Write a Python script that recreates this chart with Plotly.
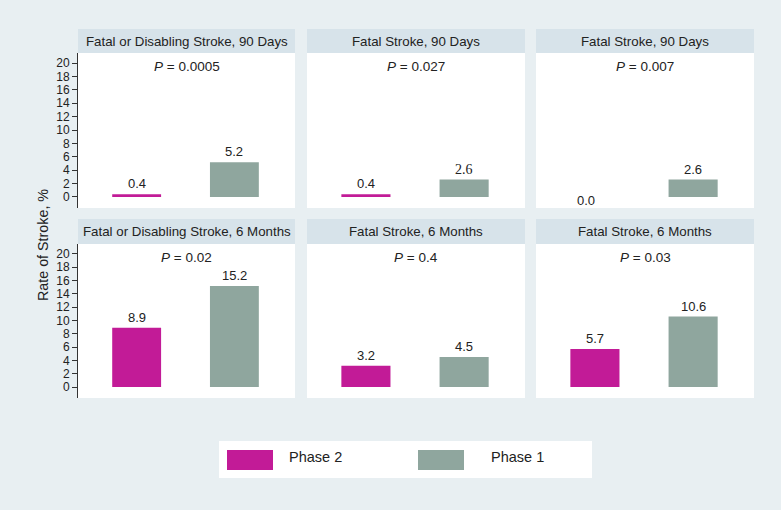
import plotly.graph_objects as go
from plotly.subplots import make_subplots

# data
panel_titles = [
    "Fatal or Disabling Stroke, 90 Days", "Fatal Stroke, 90 Days", "Fatal Stroke, 90 Days",
    "Fatal or Disabling Stroke, 6 Months", "Fatal Stroke, 6 Months", "Fatal Stroke, 6 Months",
]
p_values = ["0.0005", "0.027", "0.007", "0.02", "0.4", "0.03"]
phase2 = [0.4, 0.4, 0.0, 8.9, 3.2, 5.7]
phase1 = [5.2, 2.6, 2.6, 15.2, 4.5, 10.6]
series_names = ["Phase 2", "Phase 1"]
y_ticks = list(range(0, 21, 2))

COL_P2 = "#c21b97"
COL_P1 = "#8fa69e"
BG = "#e8eff2"
STRIP = "#d7e3ea"
FONT = "Liberation Sans, Arial, sans-serif"

W, H = 781, 510
col_px = [(78, 295), (307, 525), (536, 754)]
row_px = [(53, 208), (244, 398)]       # plot area top/bottom
strip_px = [(29, 53), (219, 244)]      # header strip top/bottom

fig = make_subplots(rows=2, cols=3)

for k in range(6):
    r, c = divmod(k, 3)
    row, col = r + 1, c + 1
    vals = [phase2[k], phase1[k]]
    fig.add_trace(
        go.Bar(
            x=[0, 1], y=vals, width=0.5,
            marker=dict(color=[COL_P2, COL_P1], line=dict(width=0)),
            showlegend=False, hoverinfo="skip",
        ),
        row=row, col=col,
    )
    axn = "" if k == 0 else str(k + 1)
    x0, x1 = col_px[c]
    t, b = row_px[r]
    fig.layout["xaxis" + axn].update(
        domain=[x0 / W, x1 / W], range=[-0.6, 1.62],
        showticklabels=False, showgrid=False, zeroline=False, ticks="",
    )
    fig.layout["yaxis" + axn].update(
        domain=[1 - b / H, 1 - t / H], range=[-1.65, 21.5],
        showgrid=False, zeroline=False,
        tickvals=y_ticks, showticklabels=(c == 0),
        ticks="outside" if c == 0 else "", ticklen=5, tickcolor="#333",
        showline=(c == 0), linecolor="#333", linewidth=1,
        tickfont=dict(family=FONT, size=12, color="#222"),
    )
    # value labels (a zero bar gets its label just under the baseline)
    for i, v in enumerate(vals):
        serif = (k == 1 and i == 1)
        fig.add_annotation(
            x=i, y=v, xref="x" + axn, yref="y" + axn,
            text=f"{v:.1f}", showarrow=False,
            yanchor="bottom" if v > 0 else "top",
            yshift=1 if v > 0 else 6, xshift=0 if v > 0 else -9,
            font=dict(family="Liberation Serif" if serif else FONT, size=14 if serif else 13, color="#222"),
        )
    # P value
    fig.add_annotation(
        x=0.5, y=1, xref="x" + axn + " domain", yref="y" + axn + " domain",
        text=f"<i>P</i> = {p_values[k]}", showarrow=False, yanchor="top", yshift=-4,
        font=dict(family=FONT, size=13.5, color="#222"),
    )
    # header strip
    st, sb = strip_px[r]
    fig.add_shape(
        type="rect", xref="paper", yref="paper",
        x0=x0 / W, x1=x1 / W, y0=1 - sb / H, y1=1 - st / H,
        fillcolor=STRIP, line=dict(width=0), layer="below",
    )
    fig.add_annotation(
        x=(x0 + x1) / 2 / W, y=1 - (st + sb) / 2 / H, xref="paper", yref="paper",
        text=panel_titles[k], showarrow=False, xanchor="center", yanchor="middle",
        font=dict(family=FONT, size=13.3, color="#222"),
    )

# y axis title
fig.add_annotation(
    x=33 / W, y=1 - 245 / H, xref="paper", yref="paper", text="Rate of Stroke, %",
    textangle=-90, showarrow=False, font=dict(family=FONT, size=14.3, color="#222"),
)

# legend box drawn by hand (large swatches)
fig.add_shape(type="rect", xref="paper", yref="paper",
              x0=219 / W, x1=592 / W, y0=1 - 478 / H, y1=1 - 441 / H,
              fillcolor="white", line=dict(width=0))
for (sx, tx), name, colr in zip([(227, 287), (418, 489)], series_names, [COL_P2, COL_P1]):
    fig.add_shape(type="rect", xref="paper", yref="paper",
                  x0=sx / W, x1=(sx + 46) / W, y0=1 - 470 / H, y1=1 - 450 / H,
                  fillcolor=colr, line=dict(width=0))
    fig.add_annotation(x=tx / W, y=1 - 457 / H, xref="paper", yref="paper", text=name,
                       showarrow=False, xanchor="left", yanchor="middle",
                       font=dict(family=FONT, size=14.5, color="#222"))

fig.update_layout(
    width=W, height=H, margin=dict(l=0, r=0, t=0, b=0),
    paper_bgcolor=BG, plot_bgcolor="white", showlegend=False,
    font=dict(family=FONT),
)

fig.write_html("out.html", config={"displayModeBar": False},
               post_script="document.body.style.margin='0';")
